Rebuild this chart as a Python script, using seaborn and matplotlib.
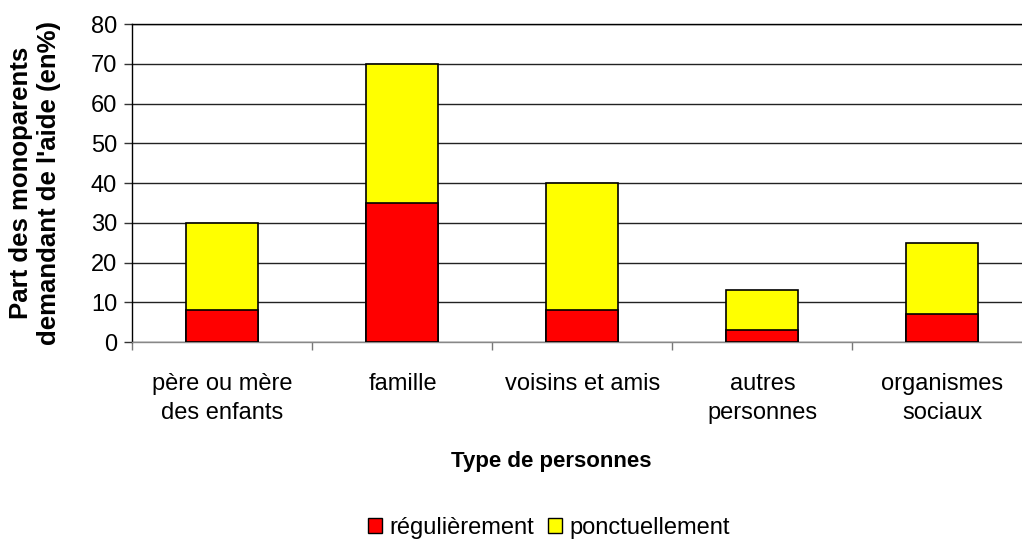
import matplotlib.pyplot as plt
import seaborn as sns
import pandas as pd
from matplotlib.patches import Patch

categories = ["père ou mère\ndes enfants", "famille", "voisins et amis",
              "autres\npersonnes", "organismes\nsociaux"]
regulierement = [8, 35, 8, 3, 7]
ponctuellement = [22, 35, 32, 10, 18]

data = pd.DataFrame({
    "TYPE": categories,
    "REGULIER": regulierement,
    "PONCTUEL": ponctuellement,
})
data["TOTAL"] = data["REGULIER"] + data["PONCTUEL"]

sns.set_style("white")
plt.rcParams['font.family'] = ['Liberation Sans', 'DejaVu Sans']
plt.rcParams['text.color'] = 'black'
plt.rcParams['axes.labelcolor'] = 'black'
plt.rcParams['xtick.labelcolor'] = 'black'
plt.rcParams['ytick.labelcolor'] = 'black'

fig = plt.figure(figsize=(10.22, 5.42), dpi=100)
# zone de trace : la droite depasse un peu de l'image comme dans l'original
ax = fig.add_axes([0.1296, 0.369, 0.8806, 0.5867])

# barres empilees : total en jaune puis la partie reguliere en rouge par dessus
sns.barplot(data=data, x="TYPE", y="TOTAL", color="#ffff00", width=0.4,
            edgecolor="black", linewidth=1.2, saturation=1, ax=ax, zorder=3)
sns.barplot(data=data, x="TYPE", y="REGULIER", color="#ff0000", width=0.4,
            edgecolor="black", linewidth=1.2, saturation=1, ax=ax, zorder=4)

ax.set_xlim(-0.5, len(categories) - 0.5)
ax.set_ylim(0, 80)
ax.set_yticks(range(0, 81, 10))
ax.yaxis.grid(True, color="#222222", linewidth=1.0, zorder=0)
ax.set_axisbelow(True)

ax.tick_params(axis="y", labelsize=17, length=6, width=1, left=True, color="#333333", pad=5)
ax.tick_params(axis="x", which="major", labelsize=17, length=0, pad=22)
ax.set_xticks([i - 0.5 for i in range(len(categories) + 1)], minor=True)
ax.tick_params(axis="x", which="minor", length=6, width=1, bottom=True, color="#777777")
for lab in ax.get_xticklabels():
    lab.set_linespacing(1.45)

for s in ["left", "top"]:
    ax.spines[s].set_color("black")
    ax.spines[s].set_linewidth(1.0)
ax.spines["bottom"].set_color("#888888")
ax.spines["bottom"].set_linewidth(1.0)
ax.spines["right"].set_visible(False)

ax.set_xlabel("Type de personnes", fontsize=16, fontweight="bold")
ax.xaxis.label.set_va("center")
ax.xaxis.set_label_coords(0.465, -0.377)
ax.set_ylabel("Part des monoparents\ndemandant de l'aide (en%)", fontsize=18.5,
              fontweight="bold", linespacing=1.2)
ax.yaxis.label.set_va("center")
ax.yaxis.set_label_coords(-0.108, 0.5)

handles = [Patch(facecolor="#ff0000", edgecolor="black", label="régulièrement"),
           Patch(facecolor="#ffff00", edgecolor="black", label="ponctuellement")]
fig.legend(handles=handles, loc="center", bbox_to_anchor=(0.537, 0.026), ncol=2,
           frameon=False, fontsize=17, handlelength=0.6, handleheight=0.6,
           handletextpad=0.3, columnspacing=0.6, borderpad=0)

fig.savefig("out.png", dpi=100)
